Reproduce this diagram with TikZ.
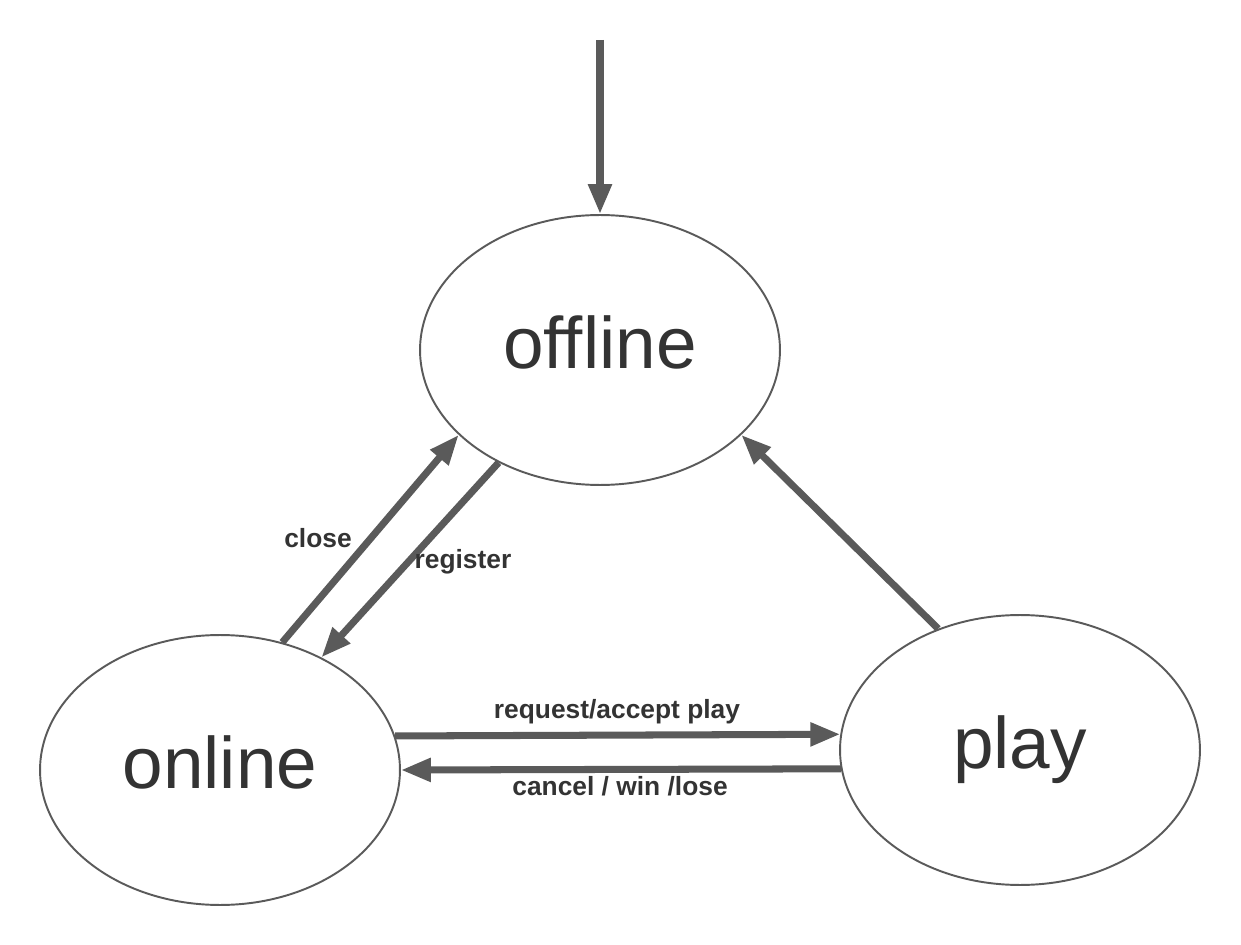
\documentclass[tikz,border=0pt]{standalone}
\usepackage{fontspec}
\setmainfont{Liberation Sans}
\usetikzlibrary{shapes.geometric,arrows.meta}
\definecolor{edgegray}{HTML}{5A5A5A}
\definecolor{txtgray}{HTML}{333333}
\tikzset{
  state/.style={ellipse, draw=edgegray, line width=1.1pt, minimum width=7.2cm, minimum height=5.4cm, inner sep=0pt, text=txtgray, text height=1.2cm, text depth=0.44cm, font=\fontsize{41.5}{48}\selectfont},
  conn/.style={draw=edgegray, line width=4pt, -{Triangle[length=0.6cm,width=0.45cm]}},
  lbl/.style={text=txtgray, font=\bfseries\fontsize{15}{18}\selectfont, inner sep=0pt}
}
\begin{document}
\begin{tikzpicture}[x=0.02cm,y=-0.02cm]
\useasboundingbox (0,0) rectangle (1241,945);
\node[state] (off) at (600,350) {offline};
\node[state] (on) at (220,770) {online};
\node[state] (play) at (1020,750) {play};
\coordinate (init) at (600,40);
\draw[conn] (init) -- (off.90);
\draw[conn] (on.64.5) -- (off.211);
\draw[conn] (off.228) -- (on.48);
\draw[conn] (play.124) -- (off.-31);
\draw[conn] (on.11) -- (play.175);
\draw[conn] (play.186) -- (on.0);
\node[lbl] (lclose) at (318,538) {close};
\node[lbl] (lreg) at (463,562) {register};
\node[lbl] (lreq) at (617,712) {request/accept play};
\node[lbl] (lcan) at (620,786) {cancel / win /lose};
\end{tikzpicture}
\end{document}
